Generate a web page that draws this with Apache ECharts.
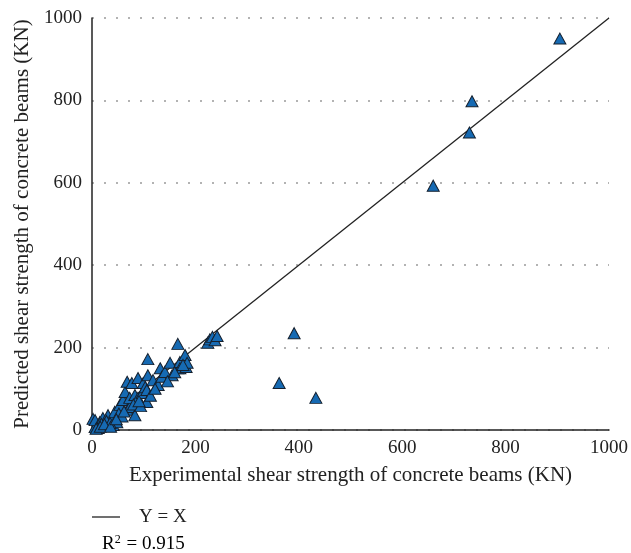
<!DOCTYPE html>
<html>
<head>
<meta charset="utf-8">
<script src="https://cdn.jsdelivr.net/npm/echarts@6/dist/echarts.min.js"></script>
<style>
  html, body { margin: 0; padding: 0; background: #fff; }
  #chart { width: 631px; height: 553px; }
</style>
</head>
<body>
<div id="chart"></div>
<script>
// Experimental vs predicted shear strength (KN)
const experimental = [
  2, 6, 6, 12, 15, 21, 25, 31, 39, 41, 44, 48, 54, 60, 64, 68, 68, 73, 73, 77,
  83, 83, 89, 89, 97, 99, 103, 106, 106, 108, 108, 118, 126, 128, 132, 135, 141, 151, 155, 166,
  166, 170, 170, 180, 182, 184, 224, 228, 233, 238, 242, 18, 28, 35, 52, 58, 80, 94, 113, 122,
  146, 160, 176, 8, 16, 24, 36, 47, 62, 91,
  362, 391, 433, 660, 730, 735, 905
];
const predicted = [
  27, 7, 24, 5, 19, 29, 12, 36, 29, 12, 44, 19, 61, 73, 92, 49, 117, 56, 78, 114,
  36, 85, 78, 126, 90, 114, 104, 97, 68, 133, 172, 121, 109, 109, 150, 129, 141, 163, 133, 150,
  209, 165, 150, 182, 153, 163, 212, 220, 226, 218, 228, 15, 22, 17, 40, 33, 62, 58, 83, 100,
  118, 140, 158, 3, 8, 14, 8, 26, 45, 70,
  114, 235, 78, 593, 722, 798, 950
];
const tickValues = [0, 200, 400, 600, 800, 1000];
const identityLine = [[0, 0], [1000, 1000]];

const points = experimental.map((x, i) => [x, predicted[i]]);
const serif = '"Liberation Serif", "DejaVu Serif", serif';
const plainNumber = v => String(v);

const chart = echarts.init(document.getElementById('chart'), null, { renderer: 'canvas' });
chart.setOption({
  animation: false,
  backgroundColor: '#ffffff',
  grid: { left: 92, right: 22, top: 18, bottom: 123 },
  xAxis: {
    type: 'value', min: tickValues[0], max: tickValues[tickValues.length - 1], interval: 200,
    name: 'Experimental shear strength of concrete beams (KN)',
    nameLocation: 'middle', nameGap: 35,
    nameTextStyle: { fontFamily: serif, fontSize: 21, color: '#222' },
    axisLine: { lineStyle: { color: '#222', width: 1.5 } },
    axisTick: { show: false },
    axisLabel: { fontFamily: serif, fontSize: 19, color: '#222', margin: 9, formatter: plainNumber },
    splitLine: { show: false }
  },
  yAxis: {
    type: 'value', min: tickValues[0], max: tickValues[tickValues.length - 1], interval: 200,
    name: 'Predicted shear strength of concrete beams (KN)',
    nameLocation: 'middle', nameGap: 58,
    nameTextStyle: { fontFamily: serif, fontSize: 21, color: '#222' },
    axisLine: { show: true, lineStyle: { color: '#222', width: 1.5 } },
    axisTick: { show: false },
    axisLabel: { fontFamily: serif, fontSize: 19, color: '#222', margin: 10, formatter: plainNumber },
    splitLine: { show: true, lineStyle: { color: '#9a9a9a', width: 1.5, type: [2, 10] } }
  },
  series: [
    {
      type: 'line', data: identityLine, symbol: 'none', z: 2,
      lineStyle: { color: '#222', width: 1.3 }
    },
    {
      type: 'scatter', data: points, symbol: 'triangle', symbolSize: [12, 11], z: 3,
      itemStyle: { color: '#166ab3', borderColor: '#15202e', borderWidth: 1, opacity: 1 }
    }
  ],
  graphic: [
    { type: 'line', shape: { x1: 92, y1: 517, x2: 120, y2: 517 }, style: { stroke: '#222', lineWidth: 1.3 } },
    { type: 'text', left: 139, top: 508, style: { text: 'Y = X', font: '19px ' + serif, fill: '#222' } },
    {
      type: 'text', left: 102, top: 534,
      style: {
        text: '{b|R}{s|2}{b| = 0.915}',
        rich: {
          b: { fontFamily: serif, fontSize: 19, color: '#222', verticalAlign: 'bottom' },
          s: { fontFamily: serif, fontSize: 12, color: '#222', padding: [0, 1, 8, 0], verticalAlign: 'bottom' }
        }
      }
    }
  ]
});
</script>
</body>
</html>
